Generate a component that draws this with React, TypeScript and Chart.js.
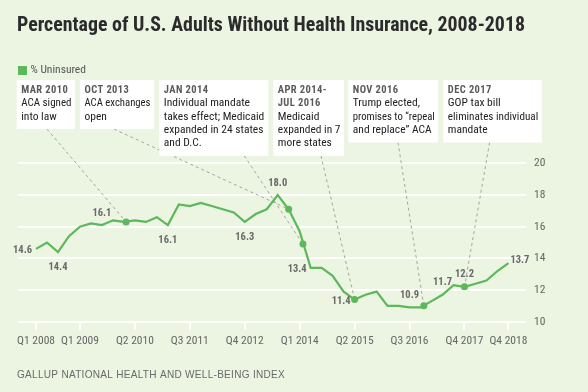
import React, { useEffect, useRef } from 'react';
import { Chart, registerables } from 'chart.js';

Chart.register(...registerables);

// ---------- data ----------
const quarters: string[] = Array.from({ length: 44 }, (_, i) => `Q${(i % 4) + 1} ${2008 + Math.floor(i / 4)}`);

const uninsured: number[] = [
  14.6, 15.0, 14.4, 15.4,
  16.0, 16.2, 16.1, 16.4,
  16.3, 16.4, 16.3, 16.6,
  16.1, 17.4, 17.3, 17.5,
  17.3, 17.1, 16.9, 16.3,
  16.8, 17.1, 18.0, 17.1,
  15.7, 13.4, 13.4, 12.9,
  11.9, 11.4, 11.7, 11.9,
  11.0, 11.0, 10.9, 10.9,
  11.3, 11.7, 12.3, 12.2,
  12.4, 12.6, 13.2, 13.7,
];

const tickQuarterIdx: number[] = [0, 4, 9, 14, 19, 24, 29, 34, 39, 43];

const labelIdx: number[] = [0, 2, 6, 12, 19, 22, 25, 29, 34, 37, 39, 43];
const labelSide: string[] = ['left', 'below', 'above', 'below', 'below', 'above', 'left', 'left', 'above', 'above', 'above', 'right'];

const eventDates: string[][] = [['MAR 2010'], ['OCT 2013'], ['JAN 2014'], ['APR 2014-', 'JUL 2016'], ['NOV 2016'], ['DEC 2017']];
const eventNotes: string[][] = [
  ['ACA signed', 'into law'],
  ['ACA exchanges', 'open'],
  ['Individual mandate', 'takes effect; Medicaid', 'expanded in 24 states', 'and D.C.'],
  ['Medicaid', 'expanded in 7', 'more states'],
  ['Trump elected,', 'promises to \u201Crepeal', 'and replace\u201D ACA'],
  ['GOP tax bill', 'eliminates individual', 'mandate'],
];
const eventQuarter: number[] = [8.2, 23, 24.3, 29, 35.3, 39];
const eventValue: number[] = [16.3, 17.1, 14.9, 11.4, 11.0, 12.2];

const TITLE = 'Percentage of U.S. Adults Without Health Insurance, 2008-2018';
const SERIES_NAME = '% Uninsured';
const SOURCE = 'GALLUP NATIONAL HEALTH AND WELL-BEING INDEX';

// ---------- layout / style ----------
const BG = '#ecf4e2';
const GREEN = '#5cb85a';
const NARROW = "'Liberation Sans Narrow', 'Arial Narrow', 'Roboto Condensed', 'Liberation Sans', sans-serif";
const REGULAR = "'Liberation Sans', Arial, sans-serif";
const BOX_LEFT = [16.7, 80, 159.3, 273.3, 348.3, 443.3];
const BOX_RIGHT = [75, 154, 268.3, 344, 438.3, 541.7];
const LEADER_X = [47, 114, 244.3, 321, 398, 489.6];
const BOX_TOP = 80;
const LINE0 = 90;
const LH = 13.4;

function boxBottom(i: number) {
  const n = eventDates[i].length + eventNotes[i].length;
  return LINE0 + (n - 1) * LH + 12.3;
}

const overlay = {
  id: 'overlay',
  beforeDraw(chart: any) {
    const { ctx, width, height } = chart;
    ctx.save();
    ctx.fillStyle = BG;
    ctx.fillRect(0, 0, width, height);
    ctx.restore();
  },
  beforeDatasetsDraw(chart: any) {
    const { ctx } = chart;
    const xs = chart.scales.x;
    const ys = chart.scales.y;
    ctx.save();
    ctx.setLineDash([3, 3]);
    ctx.strokeStyle = '#a4a6a0';
    ctx.lineWidth = 1;
    eventQuarter.forEach((q, i) => {
      const px = xs.getPixelForValue(q);
      const py = ys.getPixelForValue(eventValue[i]);
      ctx.beginPath();
      ctx.moveTo(LEADER_X[i], boxBottom(i));
      ctx.lineTo(px, py);
      ctx.stroke();
    });
    ctx.restore();
  },
  afterDatasetsDraw(chart: any) {
    const { ctx } = chart;
    const xs = chart.scales.x;
    const ys = chart.scales.y;
    ctx.save();
    // value labels
    ctx.font = `bold 10.5px ${NARROW}`;
    ctx.fillStyle = '#6a6a6a';
    ctx.textBaseline = 'middle';
    labelIdx.forEach((idx, k) => {
      const px = xs.getPixelForValue(idx);
      const py = ys.getPixelForValue(uninsured[idx]);
      const txt = uninsured[idx].toFixed(1);
      const side = labelSide[k];
      if (side === 'left') {
        ctx.textAlign = 'right';
        ctx.fillText(txt, px - 4, py + 1.5);
      } else if (side === 'right') {
        ctx.textAlign = 'left';
        ctx.fillText(txt, px + 2, py - 2.5);
      } else if (side === 'above') {
        ctx.textAlign = 'center';
        ctx.fillText(txt, px, py - 12);
      } else {
        ctx.textAlign = 'center';
        ctx.fillText(txt, px, py + 15);
      }
    });

    // annotation boxes
    eventDates.forEach((dates, i) => {
      const l = BOX_LEFT[i];
      const r = BOX_RIGHT[i];
      const b = boxBottom(i);
      const maxW = r - l - 8;
      ctx.fillStyle = '#ffffff';
      ctx.fillRect(l, BOX_TOP, r - l, b - BOX_TOP);
      ctx.textAlign = 'left';
      ctx.textBaseline = 'middle';
      let y = LINE0;
      ctx.font = `bold 10.5px ${NARROW}`;
      ctx.fillStyle = '#5a5a5a';
      (ctx as any).letterSpacing = '0.4px';
      dates.forEach((d) => {
        ctx.fillText(d, l + 4.5, y, maxW);
        y += LH;
      });
      (ctx as any).letterSpacing = '0px';
      ctx.font = `11.5px ${NARROW}`;
      ctx.fillStyle = '#222222';
      eventNotes[i].forEach((t) => {
        ctx.fillText(t, l + 4.5, y, maxW);
        y += LH;
      });
    });

    // title
    ctx.textAlign = 'left';
    ctx.textBaseline = 'alphabetic';
    ctx.fillStyle = '#2b2b2b';
    ctx.font = `bold 20.5px ${NARROW}`;
    ctx.fillText(TITLE, 17, 31, 508);

    // legend
    ctx.fillStyle = GREEN;
    ctx.fillRect(18, 66, 9, 9);
    ctx.fillStyle = '#555555';
    ctx.font = `11.5px ${NARROW}`;
    ctx.textBaseline = 'middle';
    ctx.fillText(SERIES_NAME, 30.5, 70.5);

    // source
    ctx.fillStyle = '#6a6a6a';
    ctx.font = `10.5px ${REGULAR}`;
    (ctx as any).letterSpacing = '0.3px';
    ctx.fillText(SOURCE, 17, 375.5, 268);
    (ctx as any).letterSpacing = '0px';
    ctx.restore();
  },
};

export default function App() {
  const ref = useRef<HTMLCanvasElement | null>(null);
  useEffect(() => {
    if (!ref.current) return;
    const chart = new Chart(ref.current, {
      type: 'line',
      data: {
        datasets: [
          {
            label: SERIES_NAME,
            data: uninsured.map((v, i) => ({ x: i, y: v })),
            borderColor: GREEN,
            backgroundColor: GREEN,
            borderWidth: 2.2,
            pointRadius: 0,
            tension: 0,
            order: 2,
          },
          {
            label: 'events',
            data: eventQuarter.map((q, i) => ({ x: q, y: eventValue[i] })),
            showLine: false,
            pointRadius: 3.5,
            pointBackgroundColor: GREEN,
            pointBorderWidth: 0,
            borderColor: GREEN,
            order: 1,
          },
        ],
      },
      options: {
        responsive: false,
        animation: false,
        devicePixelRatio: 1,
        layout: { padding: { top: 163.3, left: 18, right: 22, bottom: 40.3 } },
        scales: {
          x: {
            type: 'linear',
            min: -1.64,
            max: 44.6,
            afterBuildTicks: (s: any) => {
              s.ticks = tickQuarterIdx.map((v) => ({ value: v }));
            },
            afterFit: (s: any) => {
              s.height = 30;
            },
            ticks: {
              autoSkip: false,
              maxRotation: 0,
              padding: 5,
              color: '#666666',
              font: { family: NARROW, size: 11.5 },
              callback: (v: any) => quarters[Math.round(Number(v))],
            },
            grid: { drawOnChartArea: false, color: '#ffffff', lineWidth: 2, tickLength: 8 },
            border: { display: false },
          },
          y: {
            position: 'right',
            min: 10,
            max: 20,
            afterFit: (s: any) => {
              s.width = 40;
            },
            ticks: {
              stepSize: 2,
              padding: 8,
              color: '#666666',
              font: { family: NARROW, size: 11.5 },
            },
            grid: { color: '#ffffff', lineWidth: 2, drawTicks: false },
            border: { display: false },
          },
        },
        plugins: {
          legend: { display: false },
          tooltip: { enabled: false },
          title: { display: false },
        },
      },
      plugins: [overlay],
    } as any);
    return () => chart.destroy();
  }, []);
  return (
    <div style={{ position: 'fixed', left: 0, top: 0, width: 588, height: 392, background: BG }}>
      <canvas ref={ref} width={588} height={392} style={{ display: 'block', width: 588, height: 392 }} />
    </div>
  );
}
